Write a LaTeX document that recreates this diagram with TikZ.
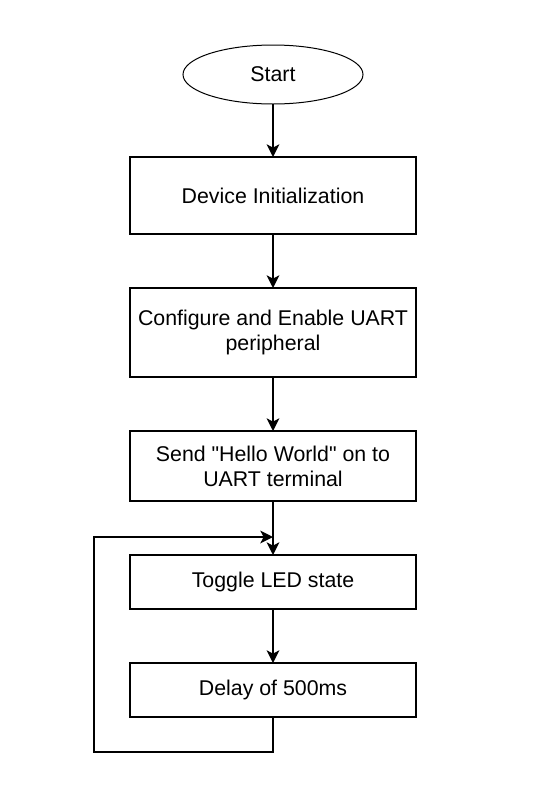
\documentclass[tikz,border=0pt]{standalone}
\usepackage{fontspec}
\setmainfont{Liberation Sans}
\usetikzlibrary{shapes.geometric, positioning, arrows.meta}

\tikzset{
    startstop/.style={ellipse, draw, line width=0.75pt, outer sep=0pt,
        minimum width=135pt, minimum height=44.25pt},
    process/.style={rectangle, draw, line width=1.5pt, outer sep=0pt,
        minimum width=214.5pt, align=center},
    flow/.style={line width=1.5pt, -{Stealth[length=9.5pt, width=9.5pt, inset=2.5pt]}}
}

\begin{document}
\begin{tikzpicture}[node distance=40.5pt, font=\fontsize{16}{18.75}\selectfont]
        \useasboundingbox (0,0) rectangle (405.75pt,-600pt);

        \node[startstop] (start) at (204.75pt,-55.875pt) {Start};
        \node[process, minimum height=57.75pt, below=39.75pt of start] (init) {Device Initialization};
        \node[process, minimum height=66.75pt, below=of init] (uart) {Configure and Enable UART\\peripheral};
        \node[process, minimum height=52.5pt, below=of uart] (hello) {Send \textquotedbl Hello World\textquotedbl{} on to\\UART terminal};
        \node[process, minimum height=40.5pt, below=of hello] (led) {Toggle LED state};
        \node[process, minimum height=40.5pt, below=of led] (delay) {Delay of 500ms};

        \coordinate (loopin) at ([yshift=13.5pt]led.north);
        \coordinate (loopbot) at ([yshift=-26.25pt]delay.south);
        \coordinate (loopleft) at ([xshift=-27pt]delay.west);

        \draw[flow] (start) -- (init);
        \draw[flow] (init) -- (uart);
        \draw[flow] (uart) -- (hello);
        \draw[flow] (hello) -- (led);
        \draw[flow] (led) -- (delay);
        \draw[flow] (delay.south) -- (loopbot) -| (loopleft |- loopin) -- (loopin);
    \end{tikzpicture}
\end{document}
